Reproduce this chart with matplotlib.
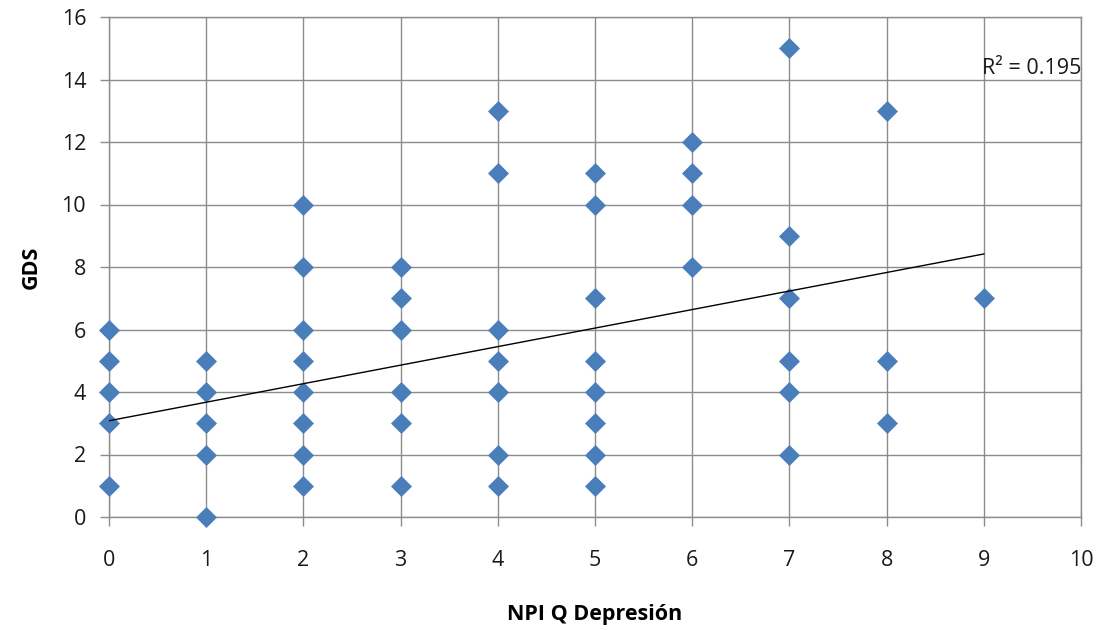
import numpy as np
import matplotlib
matplotlib.use("Agg")
import matplotlib.pyplot as plt

plt.rcParams['font.family'] = ['Open Sans', 'DejaVu Sans']

# NPI-Q depression score vs GDS, one list of GDS values per NPI-Q score
npi_scores = [0, 1, 2, 3, 4, 5, 6, 7, 8, 9]
gds_values = [
    [6, 5, 4, 3, 1],
    [5, 4, 3, 2, 0],
    [10, 8, 6, 5, 4, 3, 2, 1],
    [8, 7, 6, 4, 3, 1],
    [13, 11, 6, 5, 4, 2, 1],
    [11, 10, 7, 5, 4, 3, 2, 1],
    [12, 11, 10, 8],
    [15, 9, 7, 5, 4, 2],
    [13, 5, 3],
    [7],
]

# linear trend line as shown on the chart
trend_intercept = 3.08
trend_slope = 0.593
trend_x = [0, 9]
r_squared = 0.195

x = []
y = []
for s, vals in zip(npi_scores, gds_values):
    for v in vals:
        x.append(s)
        y.append(v)

fig = plt.figure(figsize=(11.05, 6.3), dpi=100)
ax = fig.add_axes([109 / 1105, 1 - 517 / 630, (1081 - 109) / 1105, (517 - 17) / 630])

ax.set_xlim(0, 10)
ax.set_ylim(0, 16)
ax.set_xticks(range(0, 11))
ax.set_yticks(range(0, 17, 2))

grid_col = '#8c8c8c'
ax.grid(True, color=grid_col, linewidth=1.0)
ax.set_axisbelow(True)
for sp in ax.spines.values():
    sp.set_color(grid_col)
    sp.set_linewidth(1.0)

ax.tick_params(axis='both', direction='out', length=6.5, width=1, color=grid_col,
               labelsize=15.5, labelcolor='#1a1a1a')
ax.tick_params(axis='x', pad=17)
ax.tick_params(axis='y', pad=10)

ax.plot(x, y, linestyle='none', marker='D', markersize=10.5,
        markerfacecolor='#4a7ebb', markeredgecolor='#4a7ebb', markeredgewidth=0.5,
        clip_on=False, zorder=3)

tx = np.array(trend_x, dtype=float)
ax.plot(tx, trend_intercept + trend_slope * tx, color='black', linewidth=1.0, zorder=4)

ax.text(8.98, 14.35, 'R² = {:.3f}'.format(r_squared), ha='left', va='center',
        fontsize=15.5, color='#1a1a1a', zorder=5)

ax.set_xlabel('NPI Q Depresión', fontsize=15.5, fontweight='bold', labelpad=24)
ax.set_ylabel('GDS', fontsize=15.5, fontweight='bold', labelpad=14)

fig.savefig('out.png', dpi=100)
